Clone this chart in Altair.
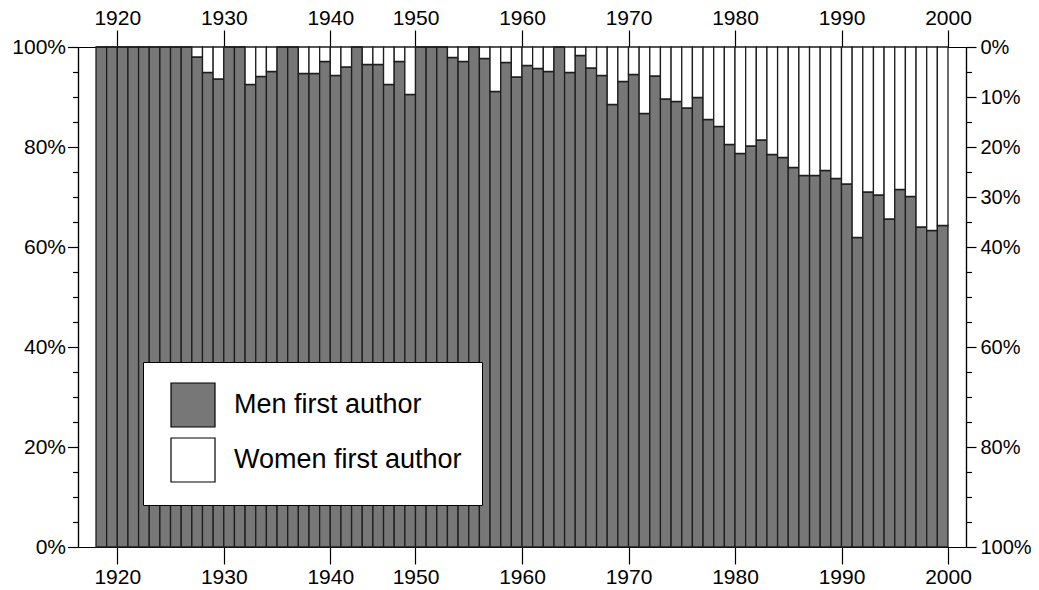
import altair as alt
import pandas as pd

# Share of papers with a man as first author (%), one bar per year shown (80 bars)
men_share = [
    100, 100, 100, 100, 100, 100, 100, 100, 100, 98.0,
    94.9, 93.6, 100, 100, 92.5, 94.1, 95.1, 100, 100, 94.7,
    94.7, 97.1, 94.3, 96.0, 100, 96.5, 96.5, 92.5, 97.1, 90.5,
    100, 100, 100, 97.9, 97.1, 100, 97.7, 91.1, 96.9, 94.0,
    96.3, 95.7, 95.1, 100, 94.9, 98.3, 95.8, 94.3, 88.5, 93.1,
    94.5, 86.7, 94.2, 89.6, 89.1, 87.8, 89.9, 85.5, 84.1, 80.5,
    78.7, 80.2, 81.4, 78.5, 77.9, 75.9, 74.3, 74.3, 75.3, 73.7,
    72.6, 61.9, 71.0, 70.4, 65.6, 71.5, 70.1, 64.0, 63.3, 64.3,
]
groups = ["Men first author", "Women first author"]
group_colors = ["#777777", "#ffffff"]

decade_ticks = [2, 12, 22, 30, 40, 50, 60, 70, 80]
decade_labels = ["1920", "1930", "1940", "1950", "1960", "1970", "1980", "1990", "2000"]
left_major = [0, 20, 40, 60, 80, 100]
right_major_women = [0, 10, 20, 30, 40, 60, 80, 100]

rows = []
for i, m in enumerate(men_share):
    rows.append({"idx": i, "idx_end": i + 1, "group": groups[0], "lo": 0, "hi": m})
    rows.append({"idx": i, "idx_end": i + 1, "group": groups[1], "lo": m, "hi": 100})
df = pd.DataFrame(rows)

n = len(men_share)
pad = 1.69
xscale = alt.Scale(domain=[-pad, n + pad], nice=False, zero=False)
yscale = alt.Scale(domain=[0, 100], nice=False, zero=True)

FONT = "Liberation Sans"
lab_expr = ("[" + ",".join(f"'{l}'" for l in decade_labels) + "][indexof(["
            + ",".join(str(t) for t in decade_ticks) + "], datum.value)]")

common = dict(title=None, grid=False, domainColor="black", domainWidth=1.2,
              tickColor="black", tickWidth=1.2, labelFont=FONT,
              labelColor="black", labelFlush=False, labelOverlap=False)

bottom_axis = alt.Axis(orient="bottom", values=decade_ticks, labelExpr=lab_expr,
                       tickSize=17, labelPadding=2, labelFontSize=21, **common)
top_axis = alt.Axis(orient="top", values=decade_ticks, labelExpr=lab_expr,
                    tickSize=17, labelPadding=2, labelFontSize=21, **common)
left_major_axis = alt.Axis(orient="left", values=left_major,
                           labelExpr="datum.value + '%'", tickSize=10.5,
                           labelPadding=2, labelFontSize=21, **common)
left_minor_axis = alt.Axis(orient="left",
                           values=[v for v in range(0, 101, 5) if v not in left_major],
                           labels=False, tickSize=5.5, **common)
right_major_axis = alt.Axis(orient="right", values=[100 - w for w in right_major_women],
                            labelExpr="(100 - datum.value) + '%'", tickSize=10,
                            labelPadding=4, labelFontSize=20, **common)
right_minor_axis = alt.Axis(orient="right",
                            values=[100 - w for w in range(0, 101, 5)
                                    if w not in right_major_women],
                            labels=False, tickSize=5.5, **common)

base = alt.Chart(df)

bars = base.mark_bar(stroke="#1e1e1e", strokeWidth=1.3).encode(
    x=alt.X("idx:Q", scale=xscale, axis=bottom_axis),
    x2="idx_end:Q",
    y=alt.Y("lo:Q", scale=yscale, axis=left_major_axis, stack=None),
    y2="hi:Q",
    color=alt.Color(
        "group:N",
        scale=alt.Scale(domain=groups, range=group_colors),
        legend=alt.Legend(
            title=None, orient="none", legendX=65, legendY=315, direction="vertical",
            symbolType="square", symbolSize=1936, symbolStrokeColor="black",
            symbolStrokeWidth=1.2, symbolOffset=7, labelFont=FONT, labelFontSize=27,
            labelColor="black", labelOffset=18, rowPadding=5, padding=20,
            fillColor="white", strokeColor="black", labelLimit=400,
        ),
    ),
)


def ghost(xaxis, yaxis):
    return base.mark_bar(opacity=0).encode(
        x=alt.X("idx:Q", scale=xscale, axis=xaxis),
        x2="idx_end:Q",
        y=alt.Y("lo:Q", scale=yscale, axis=yaxis, stack=None),
        y2="hi:Q",
    )


chart = alt.layer(
    bars,
    ghost(top_axis, left_minor_axis),
    ghost(None, right_major_axis),
    ghost(None, right_minor_axis),
).resolve_axis(x="independent", y="independent").properties(
    width=888,
    height=500,
    autosize=alt.AutoSizeParams(type="none"),
    padding={"left": 70, "top": 39, "right": 65, "bottom": 39},
).configure_view(stroke=None)

chart.save("out.html", embed_options={"renderer": "svg", "actions": False})
